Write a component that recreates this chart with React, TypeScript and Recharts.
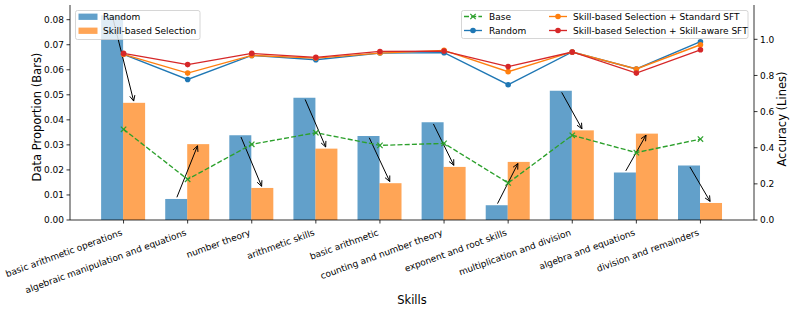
import React from 'react';
import { ComposedChart, Bar, Line, XAxis, YAxis, Legend } from 'recharts';

const skills = [
  'basic arithmetic operations',
  'algebraic manipulation and equations',
  'number theory',
  'arithmetic skills',
  'basic arithmetic',
  'counting and number theory',
  'exponent and root skills',
  'multiplication and division',
  'algebra and equations',
  'division and remainders',
];
const randomProp = [0.0818, 0.0084, 0.0338, 0.0488, 0.0335, 0.039, 0.0059, 0.0516, 0.019, 0.0218];
const skillProp = [0.0468, 0.0303, 0.0128, 0.0285, 0.0147, 0.0212, 0.0232, 0.0358, 0.0345, 0.0068];
const baseAcc = [0.502, 0.225, 0.419, 0.483, 0.413, 0.424, 0.205, 0.469, 0.373, 0.448];
const randomAcc = [0.917, 0.778, 0.911, 0.887, 0.924, 0.926, 0.749, 0.93, 0.836, 0.987];
const standardAcc = [0.917, 0.813, 0.911, 0.896, 0.924, 0.939, 0.821, 0.93, 0.836, 0.97];
const awareAcc = [0.922, 0.86, 0.922, 0.9, 0.933, 0.935, 0.849, 0.93, 0.813, 0.942];
const leftTicks = [0, 0.01, 0.02, 0.03, 0.04, 0.05, 0.06, 0.07, 0.08];
const rightTicks = [0, 0.2, 0.4, 0.6, 0.8, 1.0];

const data = skills.map((s, i) => ({
  skill: s,
  randomProp: randomProp[i],
  skillProp: skillProp[i],
  baseAcc: baseAcc[i],
  randomAcc: randomAcc[i],
  standardAcc: standardAcc[i],
  awareAcc: awareAcc[i],
}));

const BLUE = '#1f77b4';
const ORANGE = '#ff7f0e';
const GREEN = '#2ca02c';
const RED = '#d62728';
const FONT = 'DejaVu Sans, sans-serif';

const XTick = (props: any) => {
  const { x, y, payload } = props;
  const ax = x - 0.7;
  const ay = y + 9.5;
  return (
    <text
      x={ax}
      y={ay}
      textAnchor="end"
      fontSize={9}
      fontFamily={FONT}
      fill="#000"
      transform={`rotate(-20, ${ax}, ${ay})`}
    >
      {payload.value}
    </text>
  );
};

const SelShape = (props: any) => {
  const { x, y, width, height, payload } = props;
  const k = height / payload.skillProp;
  const bottom = y + height;
  const x1 = x - width / 2;
  const y1 = bottom - payload.randomProp * k;
  const x2 = x + width / 2;
  const y2 = y;
  const dx = x2 - x1;
  const dy = y2 - y1;
  const len = Math.sqrt(dx * dx + dy * dy);
  const ux = dx / len;
  const uy = dy / len;
  const sA = 1.8;
  const sx = x1 + ux * sA;
  const sy = y1 + uy * sA;
  const ex = x2 - ux * sA;
  const ey = y2 - uy * sA;
  const hl = 5.5;
  const hw = 2.6;
  const bx = ex - ux * hl;
  const by = ey - uy * hl;
  const px = -uy;
  const py = ux;
  return (
    <g>
      <rect x={x} y={y} width={width} height={height} fill={ORANGE} fillOpacity={0.7} />
      <line x1={sx} y1={sy} x2={ex} y2={ey} stroke="#000" strokeWidth={1} />
      <polyline
        points={`${bx + px * hw},${by + py * hw} ${ex},${ey} ${bx - px * hw},${by - py * hw}`}
        fill="none"
        stroke="#000"
        strokeWidth={1}
      />
    </g>
  );
};

const XDot = (props: any) => {
  const { cx, cy } = props;
  if (cx == null || cy == null) return null;
  const r = 2.7;
  return (
    <g>
      <line x1={cx - r} y1={cy - r} x2={cx + r} y2={cy + r} stroke={GREEN} strokeWidth={1.2} />
      <line x1={cx - r} y1={cy + r} x2={cx + r} y2={cy - r} stroke={GREEN} strokeWidth={1.2} />
    </g>
  );
};

const CircleDot = (color: string) => (props: any) => {
  const { cx, cy } = props;
  if (cx == null || cy == null) return null;
  return <circle cx={cx} cy={cy} r={2.8} fill={color} stroke="none" />;
};

const LegendContent = () => {
  const t = { fontSize: 9, fontFamily: FONT, fill: '#000', dominantBaseline: 'central' as const };
  const lineHandle = (x: number, y: number, color: string, kind: 'x' | 'o', dashed = false) => (
    <g>
      <line
        x1={x}
        y1={y}
        x2={x + 18}
        y2={y}
        stroke={color}
        strokeWidth={1.35}
        strokeDasharray={dashed ? '5 2.2' : undefined}
      />
      {kind === 'o' ? (
        <circle cx={x + 9} cy={y} r={2.8} fill={color} />
      ) : (
        <g>
          <line x1={x + 6.3} y1={y - 2.7} x2={x + 11.7} y2={y + 2.7} stroke={color} strokeWidth={1.2} />
          <line x1={x + 6.3} y1={y + 2.7} x2={x + 11.7} y2={y - 2.7} stroke={color} strokeWidth={1.2} />
        </g>
      )}
    </g>
  );
  return (
    <svg width={793} height={312} style={{ position: 'absolute', left: 0, top: 0, pointerEvents: 'none' }}>
      <rect x={75.5} y={10.5} width={124.5} height={29} rx={2} fill="#fff" fillOpacity={0.8} stroke="#cccccc" strokeWidth={0.8} />
      <rect x={78.5} y={13.6} width={19} height={6.3} fill={BLUE} fillOpacity={0.7} />
      <text x={103} y={16.8} {...t}>Random</text>
      <rect x={78.5} y={27.6} width={19} height={6.3} fill={ORANGE} fillOpacity={0.7} />
      <text x={103} y={30.8} {...t}>Skill-based Selection</text>

      <rect x={461.5} y={10.5} width={286.5} height={28} rx={2} fill="#fff" fillOpacity={0.8} stroke="#cccccc" strokeWidth={0.8} />
      {lineHandle(464, 16.5, GREEN, 'x', true)}
      <text x={489} y={16.5} {...t}>Base</text>
      {lineHandle(464, 30.5, BLUE, 'o')}
      <text x={489} y={30.5} {...t}>Random</text>
      {lineHandle(549, 16.5, ORANGE, 'o')}
      <text x={573} y={16.5} {...t}>Skill-based Selection + Standard SFT</text>
      {lineHandle(549, 30.5, RED, 'o')}
      <text x={573} y={30.5} {...t}>Skill-based Selection + Skill-aware SFT</text>
    </svg>
  );
};

const axisLine = { stroke: '#000', strokeWidth: 0.8 };
const tickLine = { stroke: '#000', strokeWidth: 0.8 };
const tickStyle = { fontSize: 9, fontFamily: FONT, fill: '#000' };

export default function App() {
  return (
    <div style={{ position: 'absolute', left: 0, top: 0, width: 793, height: 312, background: '#fff' }}>
      <ComposedChart
        width={793}
        height={312}
        data={data}
        margin={{ top: 5, right: 0, left: 0, bottom: 0 }}
        barCategoryGap="15%"
        barGap={0}
      >
        <XAxis
          dataKey="skill"
          xAxisId="main"
          interval={0}
          height={92}
          padding={{ left: 21.5, right: 21.5 }}
          axisLine={axisLine}
          tickLine={tickLine}
          tickSize={3.5}
          tickMargin={2}
          tick={<XTick />}
          label={(p: any) => (
            <text x={412} y={304} textAnchor="middle" fontSize={11.5} fontFamily={FONT} fill="#000">
              Skills
            </text>
          )}
        />
        <XAxis
          dataKey="skill"
          xAxisId="top"
          orientation="top"
          height={0}
          tick={false}
          tickLine={false}
          axisLine={axisLine}
        />
        <YAxis
          yAxisId="left"
          width={70}
          domain={[0, 0.08587]}
          ticks={leftTicks}
          tickFormatter={(v: number) => v.toFixed(2)}
          axisLine={axisLine}
          tickLine={tickLine}
          tickSize={3.5}
          tickMargin={2.5}
          tick={tickStyle}
          allowDataOverflow
          label={(p: any) => (
            <text
              x={37}
              y={117}
              textAnchor="middle"
              dominantBaseline="central"
              fontSize={11.5}
              fontFamily={FONT}
              fill="#000"
              transform="rotate(-90, 37, 117)"
            >
              Data Proportion (Bars)
            </text>
          )}
        />
        <YAxis
          yAxisId="right"
          orientation="right"
          width={39}
          domain={[0, 1.19]}
          ticks={rightTicks}
          tickFormatter={(v: number) => v.toFixed(1)}
          axisLine={axisLine}
          tickLine={tickLine}
          tickSize={3.5}
          tickMargin={2.5}
          tick={tickStyle}
          allowDataOverflow
          label={(p: any) => (
            <text
              x={782}
              y={119}
              textAnchor="middle"
              dominantBaseline="central"
              fontSize={11.5}
              fontFamily={FONT}
              fill="#000"
              transform="rotate(-90, 782, 119)"
            >
              Accuracy (Lines)
            </text>
          )}
        />
        <Legend
          layout="vertical"
          align="center"
          verticalAlign="middle"
          wrapperStyle={{ left: 0, top: 0, width: 793, height: 312 }}
          content={<LegendContent />}
        />
        <Bar
          dataKey="randomProp"
          name="Random"
          xAxisId="main"
          yAxisId="left"
          fill={BLUE}
          fillOpacity={0.7}
          isAnimationActive={false}
        />
        <Bar
          dataKey="skillProp"
          name="Skill-based Selection"
          xAxisId="main"
          yAxisId="left"
          fill={ORANGE}
          fillOpacity={0.7}
          shape={<SelShape />}
          isAnimationActive={false}
        />
        <Line
          dataKey="baseAcc"
          name="Base"
          xAxisId="main"
          yAxisId="right"
          stroke={GREEN}
          strokeWidth={1.35}
          strokeDasharray="5 2.2"
          dot={<XDot />}
          activeDot={false}
          isAnimationActive={false}
        />
        <Line
          dataKey="randomAcc"
          name="Random"
          xAxisId="main"
          yAxisId="right"
          stroke={BLUE}
          strokeWidth={1.35}
          dot={CircleDot(BLUE)}
          activeDot={false}
          isAnimationActive={false}
        />
        <Line
          dataKey="standardAcc"
          name="Skill-based Selection + Standard SFT"
          xAxisId="main"
          yAxisId="right"
          stroke={ORANGE}
          strokeWidth={1.35}
          dot={CircleDot(ORANGE)}
          activeDot={false}
          isAnimationActive={false}
        />
        <Line
          dataKey="awareAcc"
          name="Skill-based Selection + Skill-aware SFT"
          xAxisId="main"
          yAxisId="right"
          stroke={RED}
          strokeWidth={1.35}
          dot={CircleDot(RED)}
          activeDot={false}
          isAnimationActive={false}
        />
      </ComposedChart>
    </div>
  );
}
